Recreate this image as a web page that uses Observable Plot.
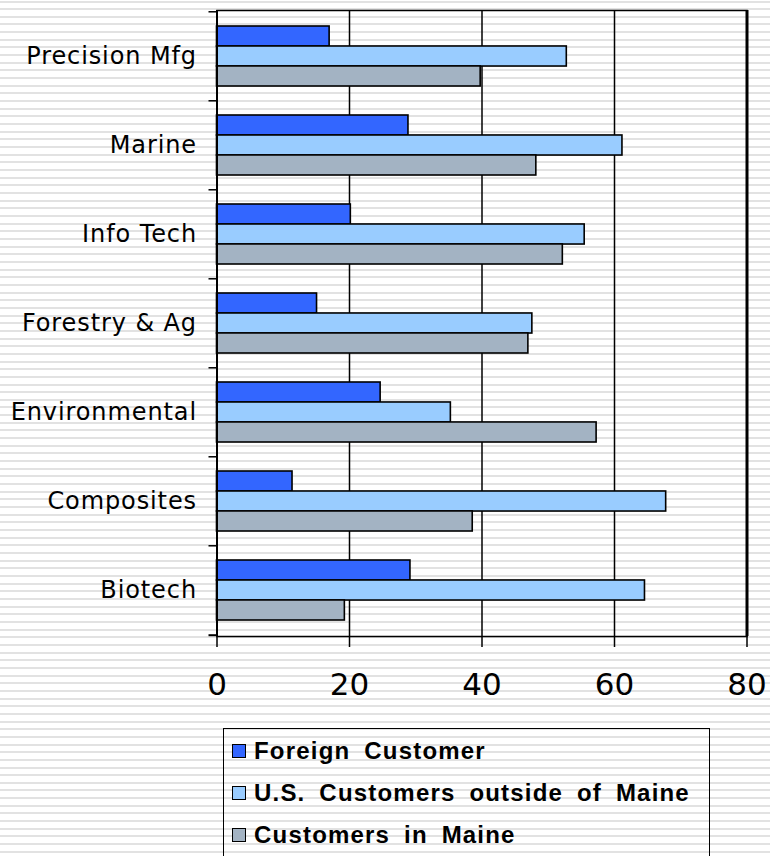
<!DOCTYPE html>
<html>
<head>
<meta charset="utf-8">
<script src="https://cdn.jsdelivr.net/npm/d3@7"></script>
<script src="https://cdn.jsdelivr.net/npm/@observablehq/plot@0.6"></script>
<style>
  html, body { margin: 0; padding: 0; }
  body {
    width: 770px; height: 856px; overflow: hidden;
    background: repeating-linear-gradient(to bottom, #ffffff 0px, #ffffff 0.5px, #e2e2e2 0.5px, #e2e2e2 2.5px, #ffffff 2.5px, #ffffff 7.66px);
  }
  #chart svg { display: block; }
  g[aria-label="y-axis tick label"] { letter-spacing: 0.9px; }
  #legend {
    margin-top: 16px; margin-left: 223px; width: 487px; height: 140px;
    border: 1.5px solid #000; box-sizing: border-box; padding-top: 1px;
    font-family: "Liberation Sans", Arial, sans-serif; font-weight: bold; font-size: 24px;
    letter-spacing: 1.2px; word-spacing: 6px; color: #000;
  }
  #legend .row { height: 42px; display: flex; align-items: center; }
  #legend .sw { width: 14px; height: 14px; box-sizing: border-box; border: 1.5px solid #000; margin-left: 8px; margin-right: 8px; flex: none; }
</style>
</head>
<body>
<div id="chart"></div>
<div id="legend"></div>
<script>
const categories = ["Precision Mfg", "Marine", "Info Tech", "Forestry & Ag", "Environmental", "Composites", "Biotech"];
const foreign   = [17.0, 28.9, 20.2, 15.1, 24.7, 11.4, 29.2];
const usOutside = [52.8, 61.2, 55.5, 47.6, 35.3, 67.8, 64.6];
const inMaine   = [39.8, 48.2, 52.2, 47.0, 57.3, 38.6, 19.3];
const seriesNames = ["Foreign Customer", "U.S. Customers outside of Maine", "Customers in Maine"];
const seriesColors = ["#3366ff", "#99ccff", "#a3b3c3"];
const xTicks = [0, 20, 40, 60, 80];

const rows = categories.map((c, i) => ({category: c, foreign: foreign[i], us: usOutside[i], maine: inMaine[i]}));

const W = 770, H = 712, mt = 10, mb = 76, ml = 216.5, mr = 23.5;
const step = (H - mt - mb) / categories.length;
const pad = 0.33;
const third = step * (1 - pad) / 3;
const barStyle = {stroke: "black", strokeWidth: 1.6};

const chart = Plot.plot({
  width: W, height: H,
  marginTop: mt, marginBottom: mb, marginLeft: ml, marginRight: mr,
  style: {background: "transparent", fontFamily: "DejaVu Sans", color: "black", overflow: "visible"},
  x: {domain: [0, 80], ticks: xTicks},
  y: {domain: categories, paddingInner: pad, paddingOuter: pad / 2},
  marks: [
    Plot.ruleX(xTicks.slice(1, -1), {stroke: "black", strokeWidth: 1.5}),
    Plot.barX(rows, {x: "foreign", y: "category", fill: seriesColors[0], ...barStyle, insetTop: 0, insetBottom: 2 * third}),
    Plot.barX(rows, {x: "us", y: "category", fill: seriesColors[1], ...barStyle, insetTop: third, insetBottom: third}),
    Plot.barX(rows, {x: "maine", y: "category", fill: seriesColors[2], ...barStyle, insetTop: 2 * third, insetBottom: 0}),
    Plot.frame({stroke: "black", strokeWidth: 1.5}),
    Plot.ruleX([0], {stroke: "black", strokeWidth: 2}),
    Plot.ruleX([80], {stroke: "black", strokeWidth: 3}),
    Plot.axisX({ticks: xTicks, tickSize: 11, tickPadding: 25, fontSize: 31, strokeWidth: 1.5, label: null}),
    Plot.axisY({tickSize: 0, tickPadding: 20, fontSize: 24, label: null}),
    Plot.axisY({tickSize: 8, tickFormat: () => "", dy: -step / 2, strokeWidth: 1.5, label: null}),
    Plot.axisY({ticks: [categories[categories.length - 1]], tickSize: 8, tickFormat: () => "", dy: step / 2, strokeWidth: 2, label: null})
  ]
});
document.getElementById("chart").append(chart);

const legend = document.getElementById("legend");
seriesNames.forEach((name, i) => {
  const row = document.createElement("div");
  row.className = "row";
  const sw = document.createElement("span");
  sw.className = "sw";
  sw.style.background = seriesColors[i];
  const t = document.createElement("span");
  t.textContent = name;
  row.append(sw, t);
  legend.append(row);
});
</script>
</body>
</html>
